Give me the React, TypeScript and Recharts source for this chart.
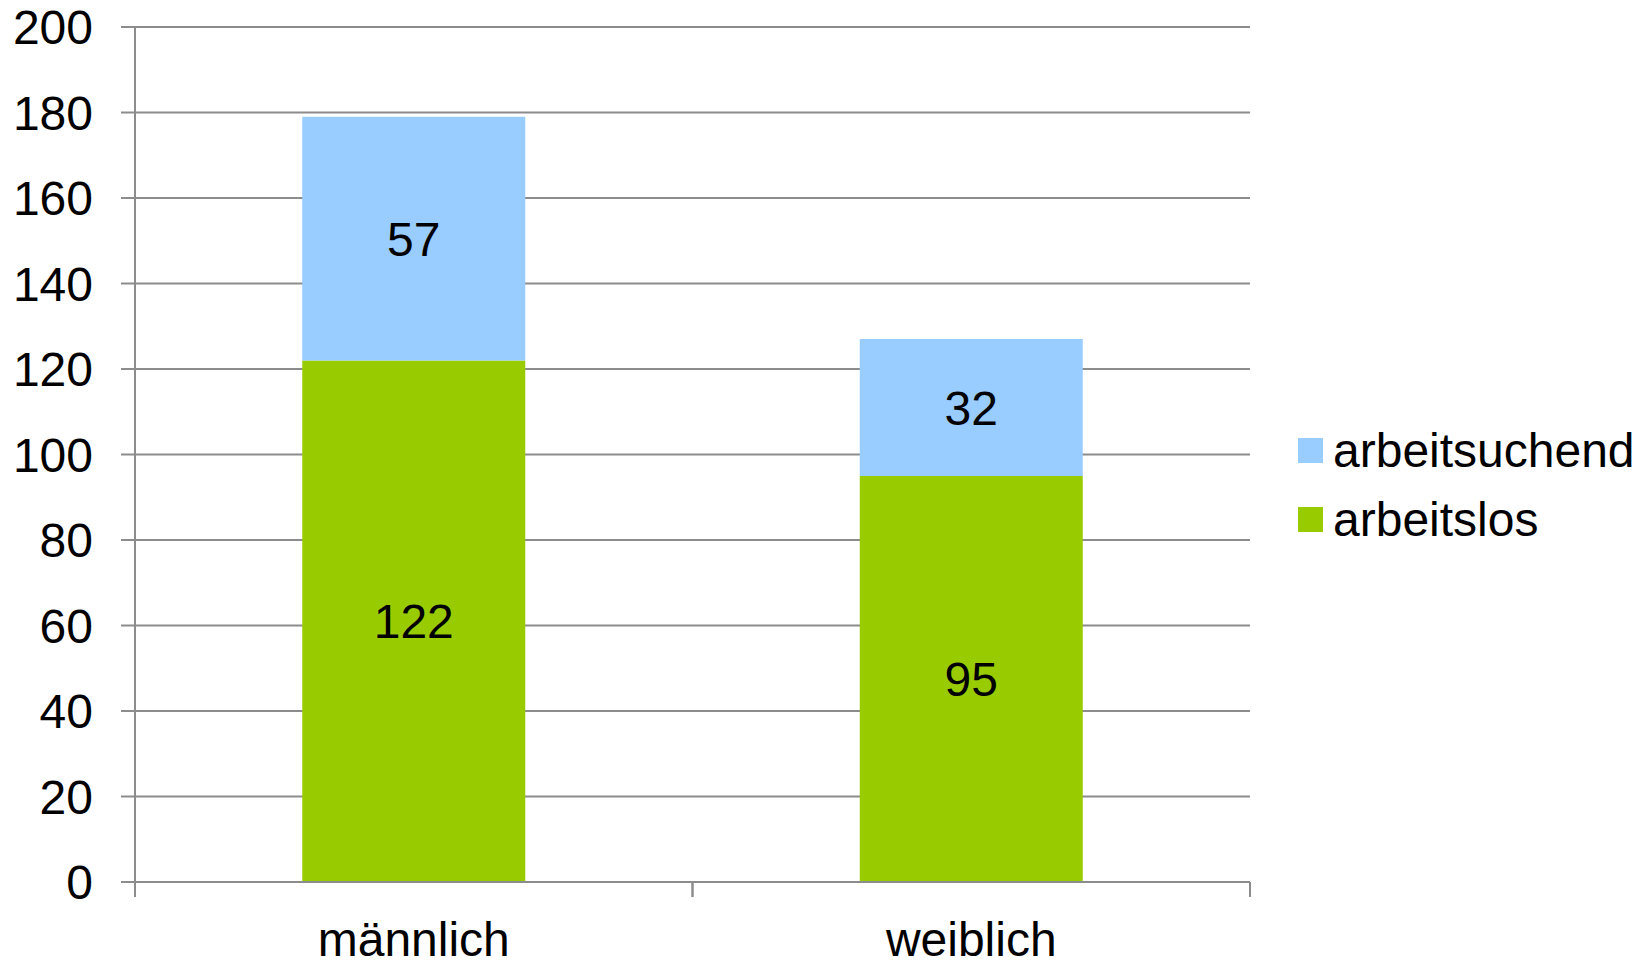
import React from "react";
import { BarChart, Bar, XAxis, YAxis, CartesianGrid, LabelList } from "recharts";

const categories = ["männlich", "weiblich"];
const arbeitslos = [122, 95];
const arbeitsuchend = [57, 32];
const yTicks = [0, 20, 40, 60, 80, 100, 120, 140, 160, 180, 200];

const seriesDefs = [
  { key: "arbeitslos", name: "arbeitslos", color: "#99CC00", values: arbeitslos },
  { key: "arbeitsuchend", name: "arbeitsuchend", color: "#99CCFF", values: arbeitsuchend },
];

const data = categories.map((c, i) => {
  const row: Record<string, string | number> = { name: c };
  seriesDefs.forEach((s) => {
    row[s.key] = s.values[i];
  });
  return row;
});

const FONT = "'Liberation Sans', Arial, sans-serif";
const GRID = "#8c8c8c";
const FS = 48;
const X_TICK_SIZE = 0;
const X_TICK_MARGIN = 40;
const BOUNDARY_TICK = 15;

function CategoryTick(props: any) {
  const { x, y, payload } = props;
  const axisY = y - X_TICK_SIZE - X_TICK_MARGIN;
  const half = payload && typeof payload.offset === "number" ? payload.offset : 0;
  return (
    <g>
      {half > 0 && (
        <>
          <line x1={x - half} x2={x - half} y1={axisY} y2={axisY + BOUNDARY_TICK} stroke={GRID} strokeWidth={2} />
          <line x1={x + half} x2={x + half} y1={axisY} y2={axisY + BOUNDARY_TICK} stroke={GRID} strokeWidth={2} />
        </>
      )}
      <text x={x} y={y} dy="0.71em" textAnchor="middle" fontSize={FS} fill="#000" fontFamily={FONT}>
        {payload.value}
      </text>
    </g>
  );
}

export default function App() {
  const legendItems = [...seriesDefs].reverse();
  return (
    <div style={{ position: "absolute", left: 0, top: 0, width: 1649, height: 964, fontFamily: FONT, background: "#fff" }}>
      <BarChart
        width={1649}
        height={964}
        data={data}
        margin={{ top: 27, right: 399, bottom: 0, left: 0 }}
        barCategoryGap="30%"
        style={{ fontFamily: FONT }}
      >
        <CartesianGrid horizontal vertical={false} stroke={GRID} strokeWidth={2} />
        <XAxis
          dataKey="name"
          height={82}
          tickLine={false}
          tickSize={X_TICK_SIZE}
          tickMargin={X_TICK_MARGIN}
          axisLine={{ stroke: GRID, strokeWidth: 2 }}
          tick={<CategoryTick />}
        />
        <YAxis
          width={135}
          domain={[0, 200]}
          ticks={yTicks}
          interval={0}
          tickSize={14}
          tickMargin={28}
          axisLine={{ stroke: GRID, strokeWidth: 2 }}
          tickLine={{ stroke: GRID, strokeWidth: 2 }}
          tick={{ fontSize: FS, fill: "#000", fontFamily: FONT }}
        />
        {seriesDefs.map((s) => (
          <Bar key={s.key} dataKey={s.key} name={s.name} stackId="a" fill={s.color} isAnimationActive={false}>
            <LabelList dataKey={s.key} position="center" style={{ fontSize: FS, fill: "#000", fontFamily: FONT }} />
          </Bar>
        ))}
      </BarChart>
      <div style={{ position: "absolute", left: 1298, top: 416 }}>
        {legendItems.map((s) => (
          <div key={s.key} style={{ display: "flex", alignItems: "center", height: 69 }}>
            <div style={{ width: 25, height: 25, background: s.color, marginRight: 10 }} />
            <span style={{ fontSize: FS, lineHeight: "69px", color: "#000", fontFamily: FONT, whiteSpace: "nowrap" }}>{s.name}</span>
          </div>
        ))}
      </div>
    </div>
  );
}
